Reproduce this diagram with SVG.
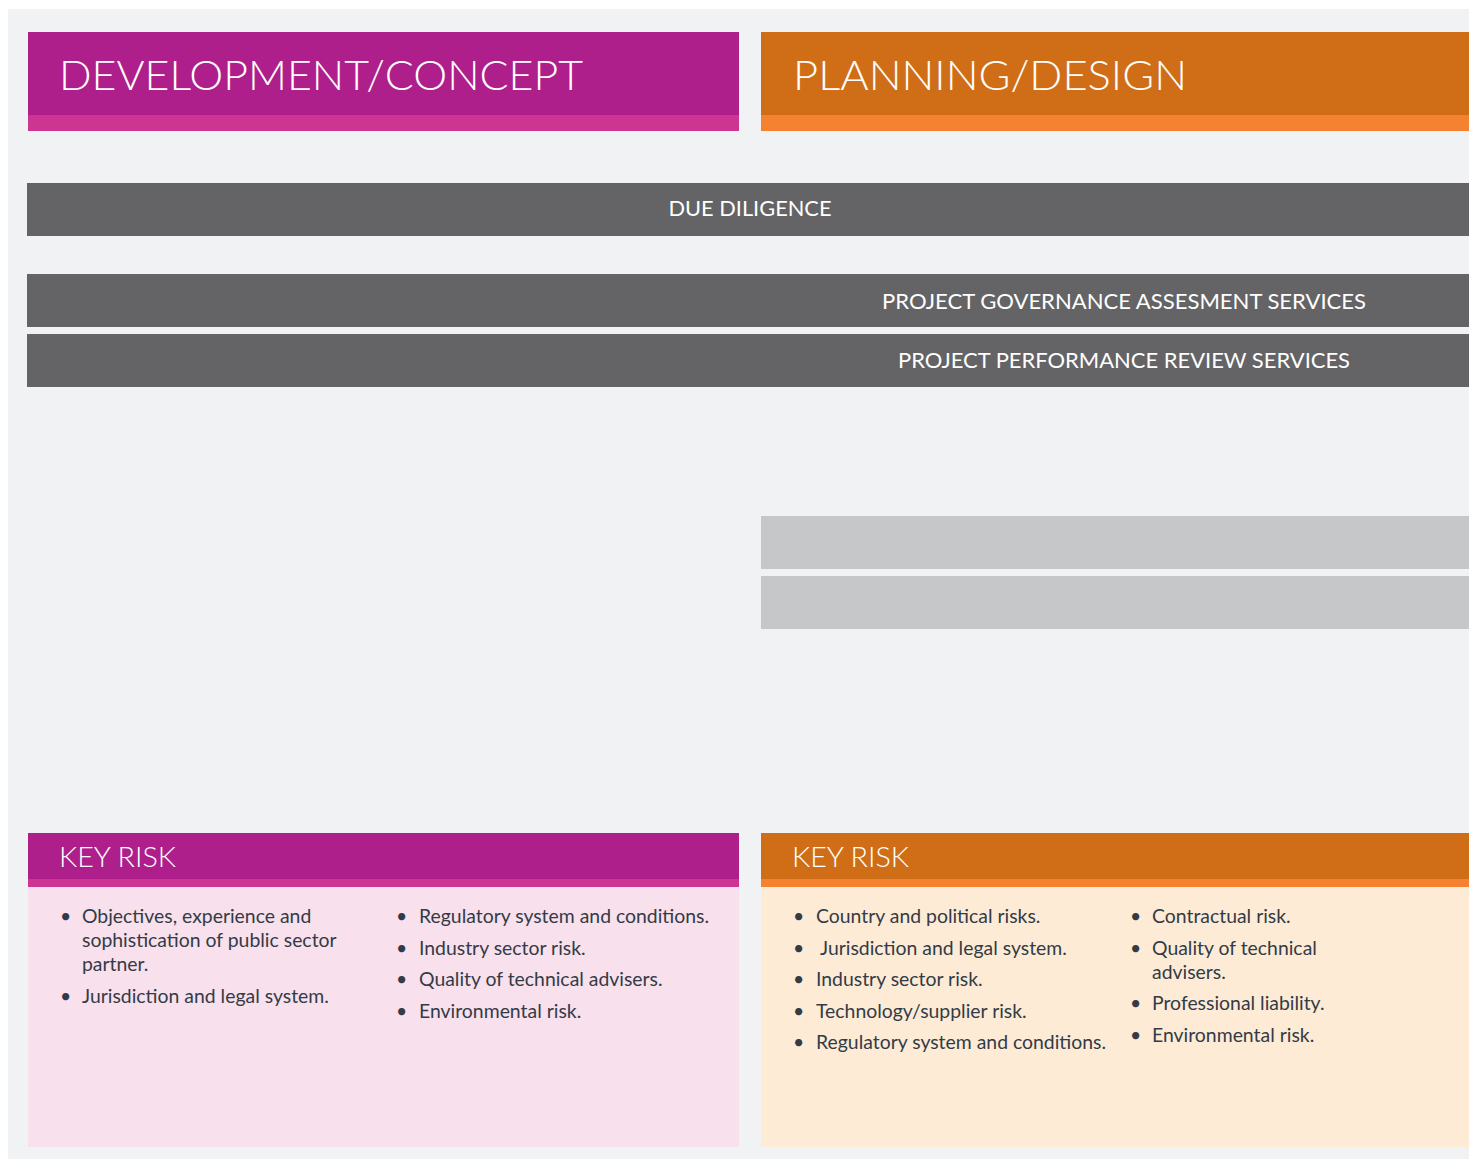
<svg xmlns="http://www.w3.org/2000/svg" width="1469" height="1159" viewBox="0 0 1469 1159">
<style>
.h{font-family:Lato,"Open Sans","Liberation Sans",sans-serif;fill:#fff;font-weight:300}
.bar{fill:#646466}
.bt{font-family:Lato,"Open Sans","Liberation Sans",sans-serif;font-size:21px;fill:#fff}
.li{font-family:Lato,"Open Sans","Liberation Sans",sans-serif;font-size:19.4px;fill:#333b47}
</style>
<rect x="0" y="0" width="1469" height="1159" fill="#fff"/>
<rect x="8" y="9" width="1461" height="1150" fill="#f1f2f4"/>
<g id="dev-header">
<rect x="28" y="32" width="711" height="99" fill="#ae1f8c"/>
<rect x="28" y="115" width="711" height="16" fill="#cc3592"/>
<text class="h" x="59" y="90" font-size="42" textLength="524" lengthAdjust="spacingAndGlyphs">DEVELOPMENT/CONCEPT</text>
</g>
<g id="plan-header">
<rect x="761" y="32" width="708" height="99" fill="#d06e17"/>
<rect x="761" y="115" width="708" height="16" fill="#f58231"/>
<text class="h" x="793" y="90" font-size="42" textLength="394" lengthAdjust="spacingAndGlyphs">PLANNING/DESIGN</text>
</g>
<g id="due-diligence">
<rect class="bar" x="27" y="183" width="1442" height="53"/>
<text class="bt" x="750" y="216" text-anchor="middle" textLength="163" lengthAdjust="spacingAndGlyphs">DUE DILIGENCE</text>
</g>
<g id="governance">
<rect class="bar" x="27" y="274" width="1442" height="53"/>
<text class="bt" x="882" y="309" textLength="484" lengthAdjust="spacingAndGlyphs">PROJECT GOVERNANCE ASSESMENT SERVICES</text>
</g>
<g id="performance">
<rect class="bar" x="27" y="334" width="1442" height="53"/>
<text class="bt" x="898" y="368" textLength="452" lengthAdjust="spacingAndGlyphs">PROJECT PERFORMANCE REVIEW SERVICES</text>
</g>
<g id="grey-bar-1"><rect x="761" y="516" width="708" height="53" fill="#c6c7c9"/></g>
<g id="grey-bar-2"><rect x="761" y="576" width="708" height="53" fill="#c6c7c9"/></g>
<g id="dev-keyrisk">
<rect x="28" y="833" width="711" height="54" fill="#ae1f8c"/>
<rect x="28" y="879" width="711" height="8" fill="#cc3592"/>
<rect x="28" y="887" width="711" height="260" fill="#f8e0ec"/>
<text class="h" x="59" y="867" font-size="28" textLength="117" lengthAdjust="spacingAndGlyphs">KEY RISK</text>
<g class="li">
<text x="60" y="923">•</text><text x="82" y="923">Objectives, experience and</text>
<text x="82" y="947">sophistication of public sector</text>
<text x="82" y="971">partner.</text>
<text x="60" y="1003">•</text><text x="82" y="1003">Jurisdiction and legal system.</text>
<text x="396" y="923">•</text><text x="419" y="923">Regulatory system and conditions.</text>
<text x="396" y="955">•</text><text x="419" y="955">Industry sector risk.</text>
<text x="396" y="986">•</text><text x="419" y="986">Quality of technical advisers.</text>
<text x="396" y="1018">•</text><text x="419" y="1018">Environmental risk.</text>
</g>
</g>
<g id="plan-keyrisk">
<rect x="761" y="833" width="708" height="54" fill="#d06e17"/>
<rect x="761" y="879" width="708" height="8" fill="#f58231"/>
<rect x="761" y="887" width="708" height="260" fill="#fdebd6"/>
<text class="h" x="792" y="867" font-size="28" textLength="117" lengthAdjust="spacingAndGlyphs">KEY RISK</text>
<g class="li">
<text x="793" y="923">•</text><text x="816" y="923">Country and political risks.</text>
<text x="793" y="955">•</text><text x="820" y="955">Jurisdiction and legal system.</text>
<text x="793" y="986">•</text><text x="816" y="986">Industry sector risk.</text>
<text x="793" y="1018">•</text><text x="816" y="1018">Technology/supplier risk.</text>
<text x="793" y="1049">•</text><text x="816" y="1049">Regulatory system and conditions.</text>
<text x="1130" y="923">•</text><text x="1152" y="923">Contractual risk.</text>
<text x="1130" y="955">•</text><text x="1152" y="955">Quality of technical</text>
<text x="1152" y="979">advisers.</text>
<text x="1130" y="1010">•</text><text x="1152" y="1010">Professional liability.</text>
<text x="1130" y="1042">•</text><text x="1152" y="1042">Environmental risk.</text>
</g>
</g>
</svg>
